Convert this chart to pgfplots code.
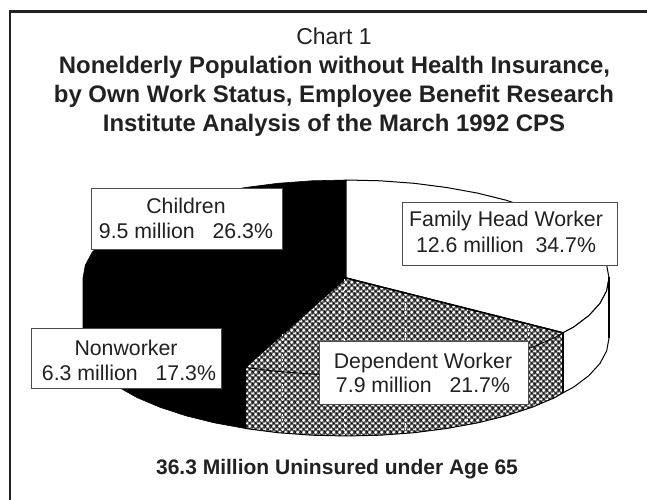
\documentclass[border=0pt]{standalone}
\usepackage{fontspec}
\setmainfont{Liberation Sans}
\usepackage{pgfplots}
\pgfplotsset{compat=1.18}
\usetikzlibrary{patterns}

% Dense checked fill: dark diagonal lattice with small white openings
\pgfdeclarepatterninherentlycolored{benefitcheck}{\pgfqpoint{0bp}{0bp}}{\pgfqpoint{6.2bp}{6.2bp}}{\pgfqpoint{6.2bp}{6.2bp}}{%
  \pgfsetcolor{black!62}
  \pgfsetlinewidth{1.7bp}
  \pgfpathmoveto{\pgfqpoint{-1bp}{-1bp}}\pgfpathlineto{\pgfqpoint{7.2bp}{7.2bp}}
  \pgfpathmoveto{\pgfqpoint{-1bp}{7.2bp}}\pgfpathlineto{\pgfqpoint{7.2bp}{-1bp}}
  \pgfusepath{stroke}
  \pgfsetcolor{black!92}
  \pgfpathcircle{\pgfqpoint{3.1bp}{3.1bp}}{1.35bp}
  \pgfpathcircle{\pgfqpoint{0bp}{0bp}}{1.35bp}
  \pgfpathcircle{\pgfqpoint{6.2bp}{0bp}}{1.35bp}
  \pgfpathcircle{\pgfqpoint{0bp}{6.2bp}}{1.35bp}
  \pgfpathcircle{\pgfqpoint{6.2bp}{6.2bp}}{1.35bp}
  \pgfusepath{fill}
}

\definecolor{ink}{gray}{0.13}
\newcommand{\regular}{\fontsize{21.3bp}{25bp}\selectfont}
\newcommand{\heading}{\fontsize{23.9bp}{29bp}\selectfont\bfseries}

\begin{document}
\begin{tikzpicture}
\begin{axis}[
  width=647bp, height=500bp, scale only axis,
  xmin=0, xmax=647, ymin=0, ymax=500, y dir=reverse,
  axis lines=none, clip=true,
  every axis plot/.append style={line join=round, mark=none},
]
\path[fill=white] (axis cs:0,0) rectangle (axis cs:647,500);

% open frame: left and top edges only
\addplot[draw=ink, line width=2.5bp, line join=miter] coordinates {(10,500)(10,11.5)(647,11.5)};

% Nonworker and Children: solid black slice with its rim
\addplot[fill=black, draw=black, line width=0.6bp] coordinates {
  (346,278)(245.4,367.5)(245.4,428.5)(214.5,422.9)(185.9,415.8)(160,407.3)(137.3,397.7)
  (118.2,387)(103,375.5)(92,363.4)(85.3,350.8)(83,338)(83,278)(85.3,265.2)(92,252.6)
  (103,240.5)(118.2,229)(137.3,218.3)(160,208.7)(185.9,200.2)(214.5,193.1)(245.4,187.5)
  (277.9,183.3)(311.7,180.8)(346,180)} --cycle;

% Family Head Worker: white top and rim
\addplot[fill=white, draw=black, line width=1bp] coordinates {
  (346,278)(563,332.8)(573.8,327)(589,315.5)(600,303.4)(606.7,290.8)(609,278)(606.7,265.2)
  (600,252.6)(589,240.5)(573.8,229)(554.7,218.3)(532,208.7)(506.1,200.2)(477.5,193.1)
  (446.6,187.5)(414.1,183.3)(380.3,180.8)(346,180)} --cycle;
\addplot[fill=white, draw=black, line width=1bp] coordinates {
  (563,332.8)(573.8,327)(589,315.5)(600,303.4)(606.7,290.8)(609,278)(609,338)(606.7,350.8)
  (600,363.4)(589,375.5)(573.8,387)(563,392.8)} --cycle;

% Dependent Worker: checked top and rim
\addplot[fill=white, draw=none] coordinates {
  (346,278)(563,332.8)(563,392.8)(554.7,397.7)(532,407.3)(506.1,415.8)(477.5,422.9)
  (446.6,428.5)(414.1,432.7)(380.3,435.2)(346,436)(311.7,435.2)(277.9,432.7)(245.4,428.5)(245.4,367.5)} --cycle;
\addplot[pattern=benefitcheck, draw=black, line width=1bp] coordinates {
  (346,278)(563,332.8)(563,392.8)(554.7,397.7)(532,407.3)(506.1,415.8)(477.5,422.9)
  (446.6,428.5)(414.1,432.7)(380.3,435.2)(346,436)(311.7,435.2)(277.9,432.7)(245.4,428.5)(245.4,367.5)} --cycle;

% faint seams running through the checked fill
\addplot[draw=white, line width=0.6bp, dash pattern=on 2bp off 3bp] coordinates {(282,334)(282,433)};
\addplot[draw=white, line width=0.6bp, dash pattern=on 2bp off 3bp] coordinates {(344,279)(344,435)};
\addplot[draw=white, line width=0.6bp, dash pattern=on 2bp off 3bp] coordinates {(405,293)(405,433)};
\addplot[draw=white, line width=0.6bp, dash pattern=on 2bp off 3bp] coordinates {(467,309)(467,424)};
\addplot[draw=white, line width=0.6bp, dash pattern=on 2bp off 3bp] coordinates {(528,324)(528,407)};

% front edge of the slice top
\addplot[draw=black, line width=0.9bp] coordinates {
  (245.4,367.5)(277.9,371.5)(311.7,374)(346,375)(380.3,374)(414.1,371.7)(446.6,367.8)
  (477.5,362.5)(506.1,355.8)(532,347.3)(554.7,337.7)(563,332.8)};

% heavy edges
\addplot[draw=black, line width=1.5bp] coordinates {(346,278)(563,332.8)};
\addplot[draw=black, line width=2.2bp] coordinates {(563,332.8)(563,392.8)};
\addplot[draw=black, line width=2.2bp] coordinates {(609,277)(609,338)};

% slice labels
\draw[fill=white, draw=ink!80, line width=0.8bp] (axis cs:91,188) rectangle (axis cs:282,249);
\draw[fill=white, draw=ink!80, line width=0.8bp] (axis cs:31,328.5) rectangle (axis cs:221,388);
\draw[fill=white, draw=ink!80, line width=0.8bp] (axis cs:402,202.5) rectangle (axis cs:617,265.5);
\draw[fill=white, draw=ink!80, line width=0.8bp] (axis cs:319,341) rectangle (axis cs:528,404);

\begin{scope}[every node/.style={anchor=base, inner sep=0pt, text=ink}]
\node at (axis cs:186,214) {\regular Children};
\node at (axis cs:186,239) {\regular 9.5 million\ \ \ 26.3\%};
\node at (axis cs:126,356) {\regular Nonworker};
\node at (axis cs:129,381) {\regular 6.3 million\ \ \ 17.3\%};
\node at (axis cs:506,227) {\regular Family Head Worker};
\node at (axis cs:506,253) {\regular 12.6 million\ \ 34.7\%};
\node at (axis cs:423,369) {\regular Dependent Worker};
\node at (axis cs:423,393) {\regular 7.9 million\ \ \ 21.7\%};

\node at (axis cs:334,45) {\fontsize{23bp}{28bp}\selectfont Chart 1};
\node at (axis cs:334.5,74) {\heading Nonelderly Population without Health Insurance,};
\node at (axis cs:334,103) {\heading by Own Work Status, Employee Benefit Research};
\node at (axis cs:334,132) {\heading Institute Analysis of the March 1992 CPS};
\node at (axis cs:337,475) {\fontsize{21bp}{25bp}\selectfont\bfseries 36.3 Million Uninsured under Age 65};
\end{scope}
\end{axis}
\end{tikzpicture}
\end{document}
